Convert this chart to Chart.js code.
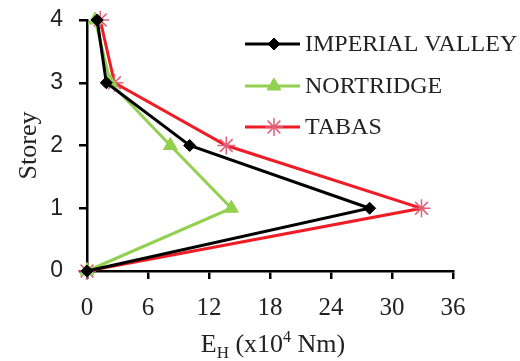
<!DOCTYPE html>
<html>
<head>
<meta charset="utf-8">
<script src="https://cdn.jsdelivr.net/npm/chart.js@4.4.1/dist/chart.umd.min.js"></script>
<style>
  html, body { margin: 0; padding: 0; background: #fff; }
  #wrap { width: 520px; height: 361px; }
</style>
</head>
<body>
<div id="wrap"><canvas id="chart" width="520" height="361"></canvas></div>
<script>
  const storeys = [0, 1, 2, 3, 4];
  const imperial = [0, 27.8, 10.1, 1.9, 1.0];
  const nortridge = [0, 14.2, 8.2, 2.3, 0.8];
  const tabas = [0, 32.9, 13.7, 2.7, 1.3];
  const seriesNames = ['IMPERIAL VALLEY', 'NORTRIDGE', 'TABAS'];
  const xTicks = [0, 6, 12, 18, 24, 30, 36];

  const serif = '"Liberation Serif", "Times New Roman", serif';

  function pts(xs) {
    return xs.map((x, i) => ({ x: x, y: storeys[i] }));
  }

  // legend drawn as line + marker, like the original
  const lineLegend = {
    id: 'lineLegend',
    afterDraw(chart) {
      const ctx = chart.ctx;
      const rows = [44, 86, 127];
      chart.data.datasets.forEach((ds, i) => {
        const y = rows[i];
        ctx.save();
        ctx.strokeStyle = ds.borderColor;
        ctx.lineWidth = 3;
        ctx.beginPath();
        ctx.moveTo(245, y);
        ctx.lineTo(300, y);
        ctx.stroke();
        ctx.fillStyle = ds.backgroundColor;
        ctx.strokeStyle = ds.pointBorderColor || ds.borderColor;
        ctx.lineWidth = ds.pointBorderWidth || 1;
        Chart.helpers.drawPoint(ctx, {
          pointStyle: ds.pointStyle,
          radius: ds.pointRadius,
          borderWidth: ds.pointBorderWidth || 1
        }, 274, y);
        ctx.fillStyle = '#222';
        ctx.font = '24px ' + serif;
        ctx.textBaseline = 'middle';
        ctx.fillText(ds.label, 305, y + 1);
        ctx.restore();
      });
    }
  };

  // x axis title with subscript H and superscript 4
  const xTitle = {
    id: 'xTitle',
    afterDraw(chart) {
      const ctx = chart.ctx;
      const parts = [
        { t: 'E', size: 26, dy: 0 },
        { t: 'H', size: 17, dy: 6 },
        { t: ' (x10', size: 26, dy: 0 },
        { t: '4', size: 16, dy: -10 },
        { t: ' Nm)', size: 26, dy: 0 }
      ];
      ctx.save();
      ctx.fillStyle = '#222';
      ctx.textBaseline = 'alphabetic';
      let total = 0;
      parts.forEach(p => {
        ctx.font = p.size + 'px ' + serif;
        p.w = ctx.measureText(p.t).width;
        total += p.w;
      });
      let x = 273 - total / 2;
      const base = 352;
      parts.forEach(p => {
        ctx.font = p.size + 'px ' + serif;
        ctx.fillText(p.t, x, base + p.dy);
        x += p.w;
      });
      ctx.restore();
    }
  };

  const ctx = document.getElementById('chart').getContext('2d');
  const myChart = new Chart(ctx, {
    type: 'scatter',
    data: {
      datasets: [
        {
          label: seriesNames[0],
          data: pts(imperial),
          showLine: true,
          borderColor: '#000000',
          backgroundColor: '#000000',
          borderWidth: 3,
          pointStyle: 'rectRot',
          pointRadius: 6,
          pointBorderWidth: 1
        },
        {
          label: seriesNames[1],
          data: pts(nortridge),
          showLine: true,
          borderColor: '#92d050',
          backgroundColor: '#92d050',
          borderWidth: 3,
          pointStyle: 'triangle',
          pointRadius: 8,
          pointBorderWidth: 1
        },
        {
          label: seriesNames[2],
          data: pts(tabas),
          showLine: true,
          borderColor: '#ee1c25',
          backgroundColor: '#ee1c25',
          pointBorderColor: '#e0607a',
          borderWidth: 3,
          pointStyle: 'star',
          pointRadius: 9,
          pointBorderWidth: 1.5
        }
      ]
    },
    options: {
      responsive: false,
      animation: false,
      clip: false,
      layout: { padding: { top: 20, right: 67, left: 0, bottom: 0 } },
      plugins: {
        legend: { display: false },
        tooltip: { enabled: false }
      },
      scales: {
        x: {
          type: 'linear',
          min: 0,
          max: 36,
          afterBuildTicks: (axis) => { axis.ticks = xTicks.map(v => ({ value: v })); },
          afterFit: (axis) => {
            axis.height = 90;
            axis.paddingLeft = 0;
            axis.paddingRight = 0;
          },
          grid: { display: true, drawOnChartArea: false, drawTicks: true, tickLength: 8, color: '#000', lineWidth: 2.5 },
          border: { display: true, color: '#000', width: 2.5 },
          ticks: {
            color: '#222',
            padding: 14,
            font: { family: serif, size: 25 }
          }
        },
        y: {
          type: 'linear',
          min: 0,
          max: 4,
          afterFit: (axis) => {
            axis.width = 87;
            axis.paddingTop = 0;
            axis.paddingBottom = 0;
          },
          ticks: {
            stepSize: 1,
            color: '#222',
            padding: 16,
            font: { family: '"Liberation Sans", Arial, sans-serif', size: 23 }
          },
          grid: { display: true, drawOnChartArea: false, drawTicks: true, tickLength: 8, color: '#000', lineWidth: 2.5 },
          border: { display: true, color: '#000', width: 2.5 },
          title: {
            display: true,
            text: 'Storey',
            color: '#222',
            padding: { top: 14, bottom: 0 },
            font: { family: serif, size: 26 }
          }
        }
      }
    },
    plugins: [lineLegend, xTitle]
  });
</script>
</body>
</html>
